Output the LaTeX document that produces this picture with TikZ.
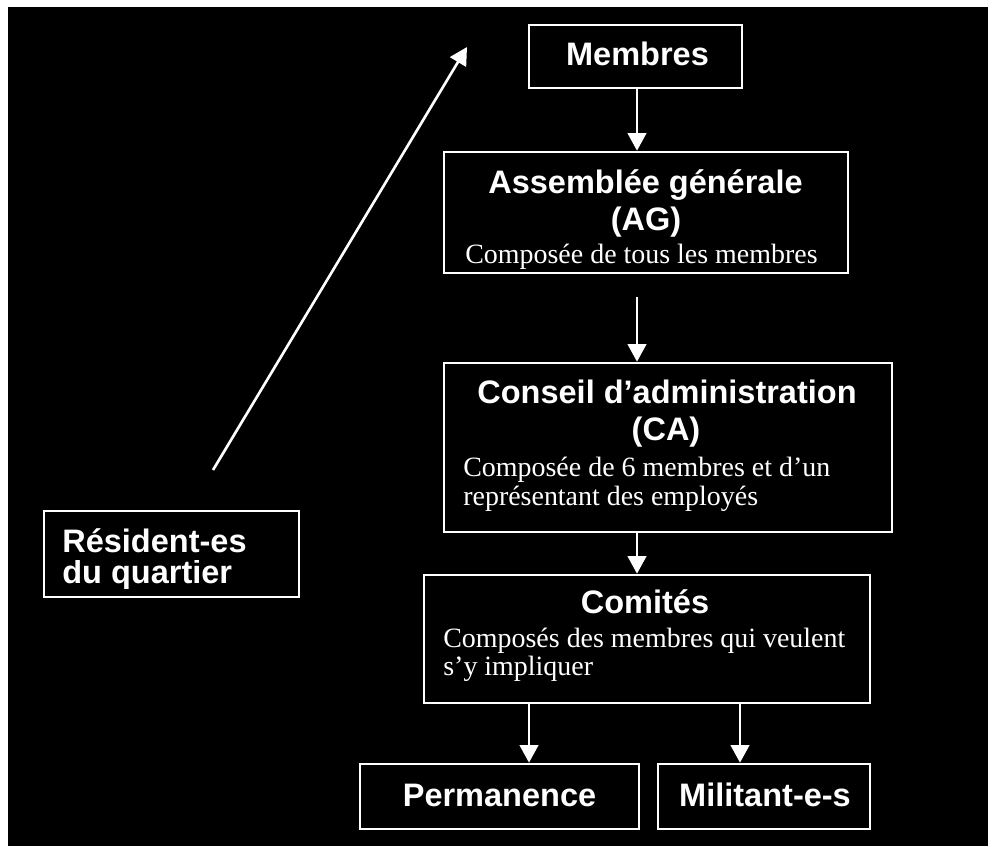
\documentclass[tikz,border=0pt]{standalone}
\usepackage{fontspec}
\setmainfont{Liberation Serif}
\setsansfont{Liberation Sans}
\usetikzlibrary{arrows.meta}
\tikzset{every picture/.style = {x=0.02cm, y=-0.02cm}}
\tikzset{boite/.style = {draw=white, line width=1.5pt, shape=rectangle, inner sep=0}}
\tikzset{titre/.style = {text=white, anchor=base, inner sep=0, font=\sffamily\bfseries\fontsize{18.5}{22}\selectfont}}
\tikzset{texte/.style = {text=white, anchor=base west, inner sep=0, font=\fontsize{15.9}{19}\selectfont}}
\tikzset{fleche/.style = {draw=white, line width=1.5pt, -{Triangle[length=10pt, width=10.5pt]}}}

\begin{document}
\begin{tikzpicture}
  \fill[white] (0, 0) rectangle (993, 846);
  \fill[black] (8, 7) rectangle (988, 846);

  \node[boite, minimum width=4.26cm, minimum height=1.26cm] (membres) at (635.5, 56.5) {};
  \node[titre] (membres-t) at (637.5, 65) {Membres};

  \node[boite, minimum width=8.08cm, minimum height=2.42cm] (ag) at (646, 212.5) {};
  \node[titre] (ag-t1) at (645.5, 193) {Assemblée générale};
  \node[titre] (ag-t2) at (646, 230) {(AG)};
  \begin{scope}
    \clip (450, 240) rectangle (845, 268);
    \node[texte] (ag-s) at (465, 263) {Composée de tous les membres};
  \end{scope}

  \node[boite, minimum width=8.96cm, minimum height=3.38cm] (ca) at (668, 447.5) {};
  \node[titre] (ca-t1) at (667, 403) {Conseil d’administration};
  \node[titre] (ca-t2) at (666, 440) {(CA)};
  \node[texte] (ca-s1) at (463, 476) {Composée de 6 membres et d’un};
  \node[texte] (ca-s2) at (463, 505) {représentant des employés};

  \node[boite, minimum width=8.92cm, minimum height=2.56cm] (comites) at (647, 639) {};
  \node[titre] (comites-t) at (645, 613) {Comités};
  \node[texte] (comites-s1) at (443, 647) {Composés des membres qui veulent};
  \node[texte] (comites-s2) at (443, 675) {s’y impliquer};

  \node[boite, minimum width=5.58cm, minimum height=1.3cm] (perm) at (499.5, 796.5) {};
  \node[titre] (perm-t) at (499.5, 806) {Permanence};
  \node[boite, minimum width=4.24cm, minimum height=1.3cm] (milit) at (764, 796.5) {};
  \node[titre] (milit-t) at (765, 806) {Militant-e-s};

  \node[boite, minimum width=5.1cm, minimum height=1.72cm] (resid) at (171.5, 554) {};
  \node[titre, anchor=base west] (resid-t1) at (62, 552) {Résident-es};
  \begin{scope}
    \clip (50, 560) rectangle (295, 588);
    \node[titre, anchor=base west] (resid-t2) at (62, 583) {du quartier};
  \end{scope}

  \coordinate (agbas) at (637, 297);
  \coordinate (depart) at (213, 470);
  \coordinate (pointe) at (467, 47);

  \draw[fleche] (membres.south -| agbas) -- (ag.north -| agbas);
  \draw[fleche] (agbas) -- (agbas |- ca.north);
  \draw[fleche] (ca.south -| agbas) -- (comites.north -| agbas);
  \draw[fleche] (comites.south -| 529,0) -- (perm.north -| 529,0);
  \draw[fleche] (comites.south -| 740,0) -- (milit.north -| 740,0);
  \draw[fleche] (depart) -- (pointe);
\end{tikzpicture}
\end{document}
